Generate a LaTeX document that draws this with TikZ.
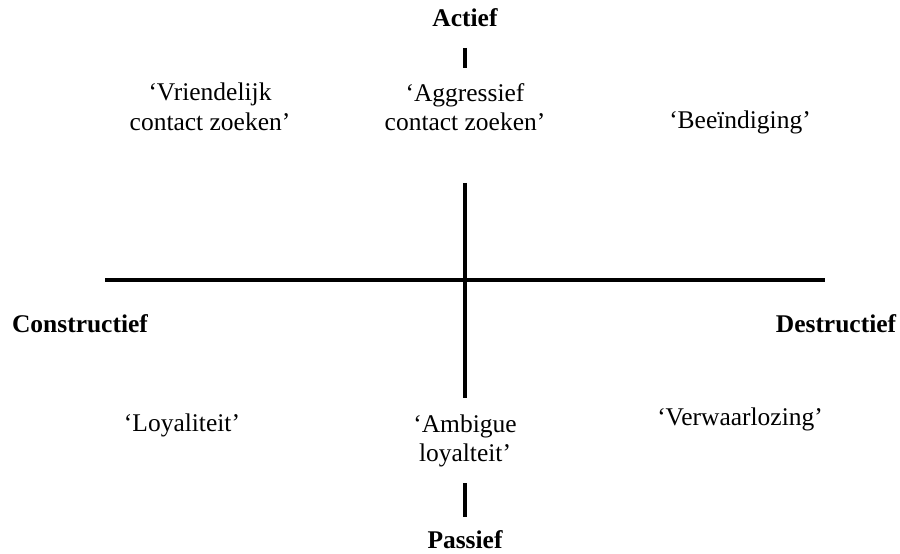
\documentclass[tikz,border=0pt]{standalone}
\usepackage{fontspec}
\setmainfont{Liberation Serif}
\usetikzlibrary{positioning}

\tikzset{
	axis line/.style = {line width = 2.3pt},
	pole/.style = {font = \fontsize{14.5}{17}\selectfont\bfseries},
	option/.style = {align = center, font = \fontsize{14.5}{16.8}\selectfont}
}

\begin{document}
\begin{tikzpicture}[x = 0.02cm, y = -0.02cm]
		\useasboundingbox (0,0) rectangle (900,554);

		\coordinate (left end) at (105,280);
		\coordinate (right end) at (825,280);
		\coordinate (axis top) at (465,183);
		\coordinate (axis bottom) at (465,398);
		\coordinate (tick top a) at (465,48);
		\coordinate (tick top b) at (465,68);
		\coordinate (tick bottom a) at (465,483);
		\coordinate (tick bottom b) at (465,517);

		\draw [axis line] (left end) -- (right end);
		\draw [axis line] (axis top) -- (axis bottom);
		\draw [axis line] (tick top a) -- (tick top b);
		\draw [axis line] (tick bottom a) -- (tick bottom b);

		\node [pole] (actief) at (465,18) {Actief};
		\node [pole] (passief) at (465,540) {Passief};
		\node [pole] (constructief) at (80,324) {Constructief};
		\node [pole] (destructief) at (836,324) {Destructief};

		\node [option] (vriendelijk) at (210,107) {‘Vriendelijk\\contact zoeken’};
		\node [option] (aggressief) at (465,107) {‘Aggressief\\contact zoeken’};
		\node [option] (beeindiging) at (740,122) {‘Beeïndiging’};
		\node [option] (loyaliteit) at (182,425) {‘Loyaliteit’};
		\node [option] (ambigue) at (465,441) {‘Ambigue\\loyalteit’};
		\node [option] (verwaarlozing) at (740,419) {‘Verwaarlozing’};
	\end{tikzpicture}
\end{document}
